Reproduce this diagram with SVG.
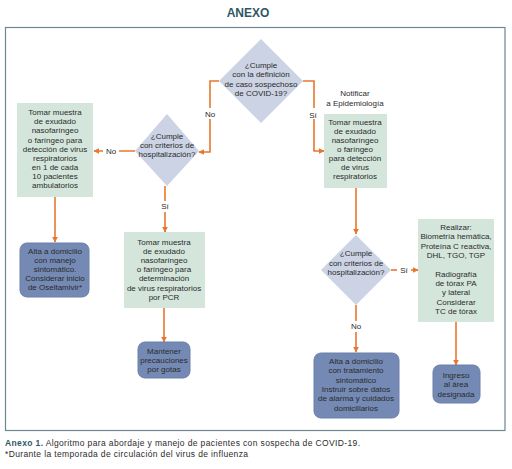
<svg xmlns="http://www.w3.org/2000/svg" width="512" height="469" viewBox="0 0 512 469">
<defs>
<marker id="ah" viewBox="0 0 10 10" refX="9" refY="5" markerWidth="6" markerHeight="6" markerUnits="userSpaceOnUse" orient="auto">
<path d="M0,0 L10,5 L0,10 z" fill="#e8772e"/>
</marker>
<style>
.t{font-family:"Liberation Sans",Arial,sans-serif;font-size:8px;fill:#2b2b2b;text-anchor:middle}
.green{fill:#d4e6dc}
.dia{fill:#ccd3e4}
.blue{fill:#7489b3;stroke:#6a80aa;stroke-width:1}
.con{fill:none;stroke:#e8772e;stroke-width:1.6}
.lbl{font-family:"Liberation Sans",Arial,sans-serif;font-size:8px;fill:#2b2b2b;text-anchor:middle}
.cap{font-family:"Liberation Sans Narrow","Liberation Sans",Arial,sans-serif;font-size:8.5px;fill:#2b2b2b}
</style>
</defs>
<rect width="512" height="469" fill="#ffffff"/>
<text x="248" y="17" style="font-family:'Liberation Sans',Arial,sans-serif;font-size:12px;font-weight:bold;fill:#2f5866" text-anchor="middle">ANEXO</text>
<rect x="5.5" y="27.5" width="499.5" height="403" fill="none" stroke="#6d8690" stroke-width="1.2"/>

<g id="connectors">
<polyline class="con" points="219,81 210,81 210,152 199,152" marker-end="url(#ah)"/>
<rect x="203" y="108" width="14" height="11" fill="#fff"/>
<text class="lbl" x="210" y="117">No</text>
<polyline class="con" points="303,81 314,81 314,151 324,151" marker-end="url(#ah)"/>
<rect x="307" y="108" width="14" height="11" fill="#fff"/>
<text class="lbl" x="313" y="118">Sí</text>
<line class="con" x1="135" y1="151" x2="94" y2="151" marker-end="url(#ah)"/>
<rect x="103" y="146" width="16" height="10" fill="#fff"/>
<text class="lbl" x="111" y="154">No</text>
<line class="con" x1="55" y1="197" x2="55" y2="242" marker-end="url(#ah)"/>
<line class="con" x1="165" y1="186" x2="165" y2="232" marker-end="url(#ah)"/>
<rect x="158" y="201" width="14" height="11" fill="#fff"/>
<text class="lbl" x="165" y="209">Sí</text>
<line class="con" x1="164" y1="308" x2="164" y2="342" marker-end="url(#ah)"/>
<line class="con" x1="356" y1="188" x2="356" y2="234" marker-end="url(#ah)"/>
<line class="con" x1="391" y1="270" x2="418" y2="270" marker-end="url(#ah)"/>
<rect x="397" y="265" width="14" height="10" fill="#fff"/>
<text class="lbl" x="404" y="273">Sí</text>
<line class="con" x1="356" y1="305" x2="356" y2="352" marker-end="url(#ah)"/>
<rect x="348" y="321" width="16" height="11" fill="#fff"/>
<text class="lbl" x="356" y="329">No</text>
<line class="con" x1="456" y1="322" x2="456" y2="365" marker-end="url(#ah)"/>
</g>

<g id="d1">
<polygon class="dia" points="261,39 303,81 261,123 219,81"/>
<text class="t" x="261" y="68">¿Cumple</text>
<text class="t" x="261" y="77">con la definición</text>
<text class="t" x="261" y="87">de caso sospechoso</text>
<text class="t" x="261" y="96">de COVID-19?</text>
</g>

<g id="d2">
<polygon class="dia" points="167,114 199,151 167,186 135,151"/>
<text class="t" x="167" y="139">¿Cumple</text>
<text class="t" x="167" y="148">con criterios de</text>
<text class="t" x="167" y="157">hospitalización?</text>
</g>

<g id="b1">
<rect class="green" x="17" y="103" width="76" height="94"/>
<text class="t" x="55" y="115">Tomar muestra</text>
<text class="t" x="55" y="124">de exudado</text>
<text class="t" x="55" y="133">nasofaríngeo</text>
<text class="t" x="55" y="143">o faríngeo para</text>
<text class="t" x="55" y="152">detección de virus</text>
<text class="t" x="55" y="161">respiratorios</text>
<text class="t" x="55" y="170">en 1 de cada</text>
<text class="t" x="55" y="179">10 pacientes</text>
<text class="t" x="55" y="188">ambulatorios</text>
</g>

<g id="b2">
<rect class="blue" x="20" y="243" width="69" height="54" rx="7"/>
<text class="t" x="55" y="254">Alta a domicilio</text>
<text class="t" x="55" y="263">con manejo</text>
<text class="t" x="55" y="272">sintomático.</text>
<text class="t" x="55" y="281">Considerar inicio</text>
<text class="t" x="55" y="290">de Oseltamivir*</text>
</g>

<g id="b3">
<rect class="green" x="124" y="232" width="81" height="76"/>
<text class="t" x="164" y="245">Tomar muestra</text>
<text class="t" x="164" y="254">de exudado</text>
<text class="t" x="164" y="263">nasofaríngeo</text>
<text class="t" x="164" y="272">o faríngeo para</text>
<text class="t" x="164" y="281">determinación</text>
<text class="t" x="164" y="291">de virus respiratorios</text>
<text class="t" x="164" y="300">por PCR</text>
</g>

<g id="b4">
<rect class="blue" x="138" y="342" width="52" height="36" rx="7"/>
<text class="t" x="164" y="354">Mantener</text>
<text class="t" x="164" y="363">precauciones</text>
<text class="t" x="164" y="372">por gotas</text>
</g>

<g id="note">
<text class="t" x="355" y="96">Notificar</text>
<text class="t" x="355" y="106">a Epidemiología</text>
</g>

<g id="b5">
<rect class="green" x="324" y="114" width="63" height="74"/>
<text class="t" x="355" y="125">Tomar muestra</text>
<text class="t" x="355" y="134">de exudado</text>
<text class="t" x="355" y="143">nasofaríngeo</text>
<text class="t" x="355" y="152">o faríngeo</text>
<text class="t" x="355" y="161">para detección</text>
<text class="t" x="355" y="170">de virus</text>
<text class="t" x="355" y="179">respiratorios</text>
</g>

<g id="d3">
<polygon class="dia" points="356,235 391,270 356,305 321,270"/>
<text class="t" x="356" y="256">¿Cumple</text>
<text class="t" x="356" y="266">con criterios de</text>
<text class="t" x="356" y="275">hospitalización?</text>
</g>

<g id="b6">
<rect class="green" x="418" y="219" width="76" height="103"/>
<text class="t" x="456" y="230">Realizar:</text>
<text class="t" x="456" y="239">Biometría hemática,</text>
<text class="t" x="456" y="249">Proteína C reactiva,</text>
<text class="t" x="456" y="258">DHL, TGO, TGP</text>
<text class="t" x="456" y="277">Radiografía</text>
<text class="t" x="456" y="286">de tórax PA</text>
<text class="t" x="456" y="295">y lateral</text>
<text class="t" x="456" y="305">Considerar</text>
<text class="t" x="456" y="314">TC de tórax</text>
</g>

<g id="b7">
<rect class="blue" x="314" y="353" width="85" height="65" rx="7"/>
<text class="t" x="356" y="364">Alta a domicilio</text>
<text class="t" x="356" y="373">con tratamiento</text>
<text class="t" x="356" y="383">sintomático</text>
<text class="t" x="356" y="392">Instruir sobre datos</text>
<text class="t" x="356" y="401">de alarma y cuidados</text>
<text class="t" x="356" y="411">domiciliarios</text>
</g>

<g id="b8">
<rect class="blue" x="433" y="365" width="47" height="38" rx="7"/>
<text class="t" x="456" y="378">Ingreso</text>
<text class="t" x="456" y="387">al área</text>
<text class="t" x="456" y="397">designada</text>
</g>

<g id="caption">
<text class="cap" x="5" y="446" textLength="355" lengthAdjust="spacing"><tspan style="font-weight:bold;fill:#2f5866">Anexo 1.</tspan> Algoritmo para abordaje y manejo de pacientes con sospecha de COVID-19.</text>
<text class="cap" x="5" y="457" textLength="243" lengthAdjust="spacing">*Durante la temporada de circulación del virus de influenza</text>
</g>
</svg>
